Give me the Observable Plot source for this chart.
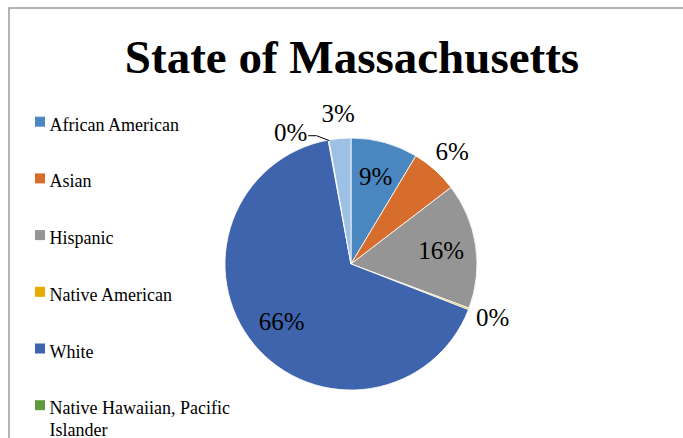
<!DOCTYPE html>
<html>
<head>
<meta charset="utf-8">
<script src="https://cdn.jsdelivr.net/npm/d3@7"></script>
<script src="https://cdn.jsdelivr.net/npm/@observablehq/plot@0.6"></script>
<style>
  html, body { margin: 0; padding: 0; background: #fff; overflow: hidden; }
  #chart svg { display: block; }
  #chart svg text { font-family: "Liberation Serif", "Times New Roman", serif !important; }
</style>
</head>
<body>
<div id="chart"></div>
<script>
// ---- data ----
const title = "State of Massachusetts";
const categories = ["African American", "Asian", "Hispanic", "Native American", "White", "Native Hawaiian, Pacific\nIslander", "Other"];
const shares = [8.6, 6.0, 16.1, 0.2, 66.2, 0.1, 2.8];
const valueLabels = ["9%", "6%", "16%", "0%", "66%", "0%", "3%"];
const colors = ["#4A86BF", "#D66D2C", "#959595", "#E6AC00", "#3E64AD", "#5F9B3E", "#9DC1E5"];

// ---- layout ----
const W = 683, H = 438;
const cx = 351, cy = 264, R = 126;
const serif = "Liberation Serif, Times New Roman, serif";

const data = categories.map((c, i) => ({category: c, share: shares[i], label: valueLabels[i]}));
const color = Plot.scale({color: {type: "ordinal", domain: categories, range: colors}});

const arcs = d3.pie().sort(null).value(d => d.share)(data);
const arcGen = d3.arc().innerRadius(0).outerRadius(R);

// label positions computed from the pie geometry
const pt = (angle, r) => [cx + r * Math.sin(angle), cy - r * Math.cos(angle)];
const labelRows = [];
const leaders = [];
arcs.forEach((a, i) => {
  const mid = (a.startAngle + a.endAngle) / 2;
  const inside = a.data.share > 7;
  let [x, y] = pt(mid, R * (inside ? 0.72 : 1.2));
  if (!inside && i + 1 < arcs.length) {
    const nxt = arcs[i + 1];
    const [nx, ny] = pt((nxt.startAngle + nxt.endAngle) / 2, R * 1.2);
    if (Math.hypot(nx - x, ny - y) < 30) {
      // collision: move left, draw a leader line to the slice edge
      x = x - 34; y = y + 17;
      const [ex, ey] = pt(mid, R);
      leaders.push({k: i, x: x + 18, y: y + 3}, {k: i, x: x + 26, y: y + 3}, {k: i, x: ex, y: ey});
    }
  }
  labelRows.push({x, y, text: a.data.label});
});

const legendRows = data.map((d, i) => ({name: d.category, top: 115.2 + i * 56.7}));

function pieMark() {
  const g = d3.create("svg:g").attr("transform", `translate(${cx},${cy})`);
  g.selectAll("path").data(arcs).join("path")
    .attr("d", arcGen)
    .attr("fill", d => color.apply(d.data.category))
    .attr("stroke", "#ffffff")
    .attr("stroke-width", 0.8)
    .attr("stroke-linejoin", "round");
  return g.node();
}

const chart = Plot.plot({
  width: W,
  height: H,
  margin: 0,
  x: {type: "identity", axis: null},
  y: {type: "identity", axis: null},
  style: {background: "#fff", fontFamily: serif},
  marks: [
    Plot.frame({stroke: "#a2a2a2", strokeWidth: 1.6, insetLeft: 8.5, insetTop: 7.5, insetRight: -10, insetBottom: -10}),
    Plot.text([title], {x: W / 2 + 10, y: 72, text: d => d, fontSize: 47, fontWeight: "bold", lineAnchor: "bottom", textAnchor: "middle", fill: "#000"}),
    pieMark,
    Plot.text(labelRows, {x: "x", y: "y", text: "text", fontSize: 25, fill: "#000", textAnchor: "middle", lineAnchor: "middle"}),
    Plot.line(leaders, {x: "x", y: "y", z: "k", stroke: "#000", strokeWidth: 1}),
    Plot.rect(legendRows, {x1: () => 35, x2: () => 45, y1: d => d.top + 1.5, y2: d => d.top + 11.5, fill: d => color.apply(d.name)}),
    Plot.text(legendRows, {x: () => 49, y: "top", text: "name", fontSize: 18, fill: "#000", textAnchor: "start", lineAnchor: "top", lineHeight: 1.18})
  ]
});
document.getElementById("chart").append(chart);
</script>
</body>
</html>
